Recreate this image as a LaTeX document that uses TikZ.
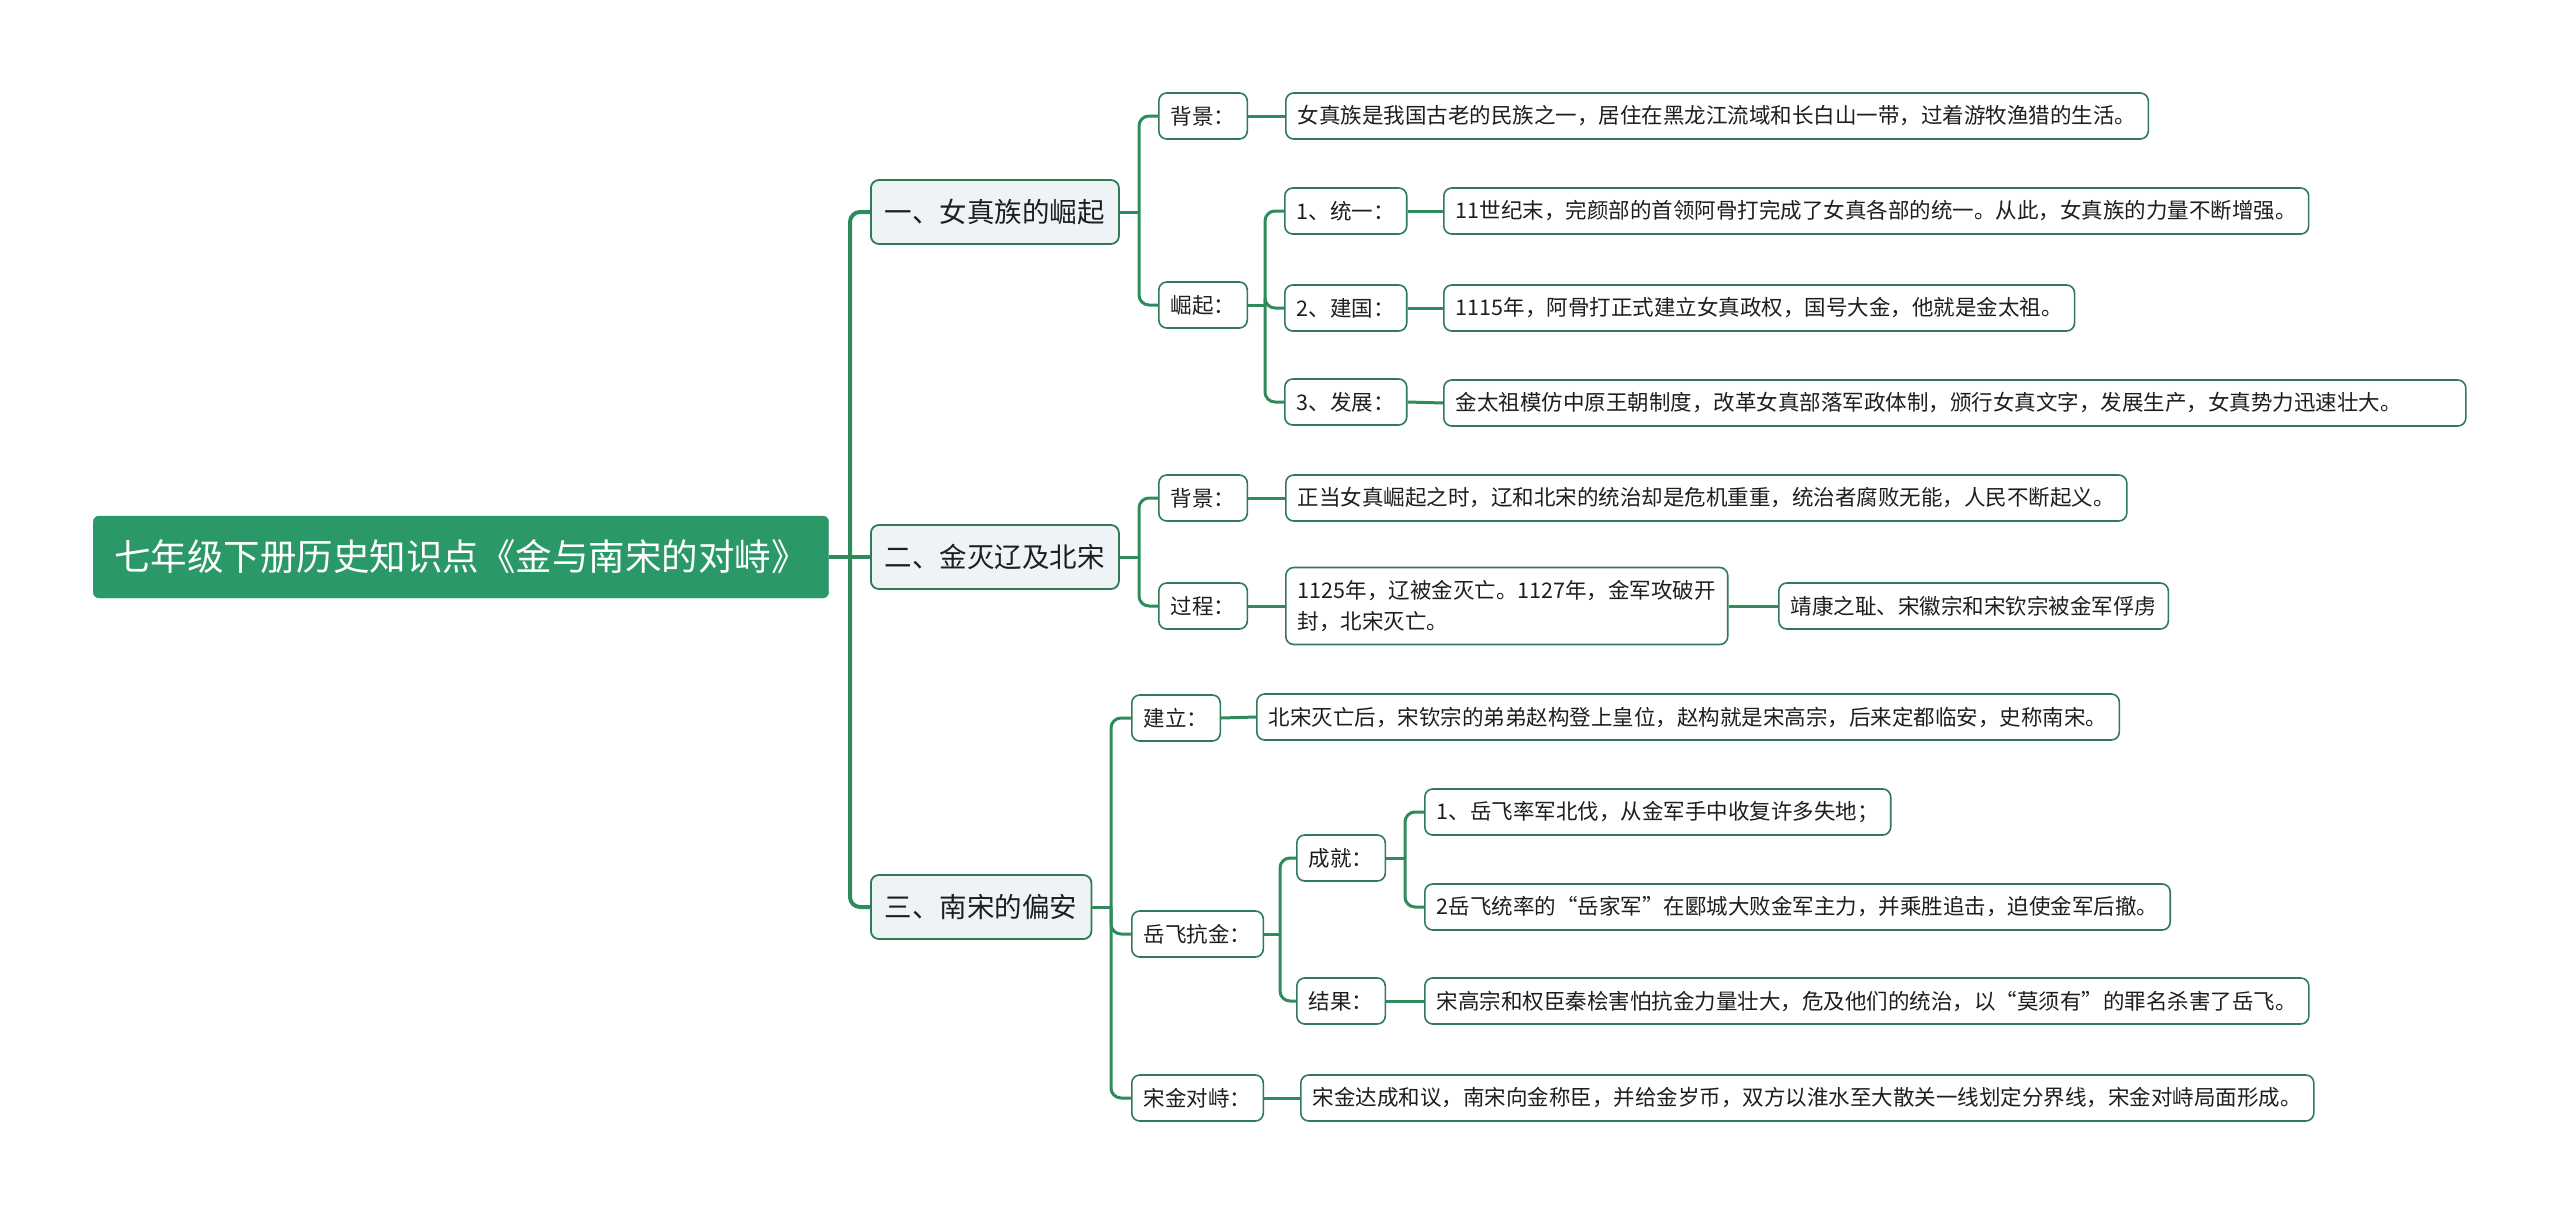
\documentclass[tikz,border=0pt]{standalone}
\usepackage{fontspec}
\setmainfont{Noto Sans CJK SC}
\definecolor{rootfill}{RGB}{43,152,104}
\definecolor{linec}{RGB}{46,140,92}
\definecolor{borderc}{RGB}{48,122,88}
\definecolor{lonefill}{RGB}{238,243,246}
\definecolor{txt}{RGB}{30,30,30}
\tikzset{
 rootbox/.style={fill=rootfill, draw=rootfill, rounded corners=6pt, text=white, font=\fontsize{36.5}{44}\selectfont, inner xsep=21pt, inner ysep=0pt, minimum height=82pt, anchor=west},
 lonebox/.style={fill=lonefill, draw=borderc, line width=1.8pt, rounded corners=8pt, font=\fontsize{27.5}{33}\selectfont, inner xsep=14pt, inner ysep=0pt, minimum height=64pt, anchor=west, text=txt},
 leafbox/.style={fill=white, draw=borderc, line width=1.6pt, rounded corners=8pt, font=\fontsize{21.5}{31}\selectfont, inner xsep=12pt, inner ysep=0pt, minimum height=46pt, anchor=west, text=txt, align=left},
 conn/.style={draw=linec, line width=3pt, rounded corners=10pt},
 mainconn/.style={conn, line width=4pt}
}
\begin{document}
\begin{tikzpicture}[x=1pt,y=-1pt]
\useasboundingbox (0,0) rectangle (2560,1215);
% root
\node[rootbox] (root) at (93,557) {七年级下册历史知识点《金与南宋的对峙》};
% level 1
\node[lonebox] (a) at (870,212) {一、女真族的崛起};
\node[lonebox] (b) at (870,557) {二、金灭辽及北宋};
\node[lonebox] (c) at (870,907) {三、南宋的偏安};
% level 2
\node[leafbox] (abj) at (1158,116) {背景：};
\node[leafbox] (ajq) at (1158,305) {崛起：};
\node[leafbox] (bbj) at (1158,498) {背景：};
\node[leafbox] (bgc) at (1158,606) {过程：};
\node[leafbox] (cjl) at (1131,718) {建立：};
\node[leafbox] (cyf) at (1131,934) {岳飞抗金：};
\node[leafbox] (csj) at (1131,1098) {宋金对峙：};
% level 3
\node[leafbox] (abjt) at (1285,116) {女真族是我国古老的民族之一，居住在黑龙江流域和长白山一带，过着游牧渔猎的生活。};
\node[leafbox] (aty) at (1284,211) {1、统一：};
\node[leafbox] (ajg) at (1284,308) {2、建国：};
\node[leafbox] (afz) at (1284,402) {3、发展：};
\node[leafbox] (atyt) at (1443,211) {11世纪末，完颜部的首领阿骨打完成了女真各部的统一。从此，女真族的力量不断增强。};
\node[leafbox] (ajgt) at (1443,308) {1115年，阿骨打正式建立女真政权，国号大金，他就是金太祖。};
\node[leafbox, text width=998pt] (afzt) at (1443,403) {金太祖模仿中原王朝制度，改革女真部落军政体制，颁行女真文字，发展生产，女真势力迅速壮大。};
\node[leafbox] (bbjt) at (1285,498) {正当女真崛起之时，辽和北宋的统治却是危机重重，统治者腐败无能，人民不断起义。};
\node[leafbox, minimum height=77pt] (bgct) at (1285,606) {1125年，辽被金灭亡。1127年，金军攻破开\\封，北宋灭亡。};
\node[leafbox] (bjk) at (1778,606) {靖康之耻、宋徽宗和宋钦宗被金军俘虏};
\node[leafbox] (cjlt) at (1256,717) {北宋灭亡后，宋钦宗的弟弟赵构登上皇位，赵构就是宋高宗，后来定都临安，史称南宋。};
\node[leafbox] (ccj) at (1296,858) {成就：};
\node[leafbox] (cjg) at (1296,1001) {结果：};
\node[leafbox] (ccj1) at (1424,812) {1、岳飞率军北伐，从金军手中收复许多失地；};
\node[leafbox] (ccj2) at (1424,907) {2岳飞统率的“岳家军”在郾城大败金军主力，并乘胜追击，迫使金军后撤。};
\node[leafbox] (cjgt) at (1424,1001) {宋高宗和权臣秦桧害怕抗金力量壮大，危及他们的统治，以“莫须有”的罪名杀害了岳飞。};
\node[leafbox] (csjt) at (1300,1098) {宋金达成和议，南宋向金称臣，并给金岁币，双方以淮水至大散关一线划定分界线，宋金对峙局面形成。};
% trunk coordinates
\coordinate (t0) at (850,557);
\coordinate (ta) at (1139,212);
\coordinate (tb) at (1139,557);
\coordinate (tc) at (1111,907);
\coordinate (tjq) at (1265,305);
\coordinate (tyf) at (1280,934);
\coordinate (tcj) at (1405,858);
% connectors root
\draw[mainconn] (root.east) -- (b.west);
\draw[mainconn] (t0) |- (a.west);
\draw[mainconn] (t0) |- (c.west);
% level 1 -> level 2
\draw[conn] (a.east) -- (ta);
\draw[conn] (ta) |- (abj.west);
\draw[conn] (ta) |- (ajq.west);
\draw[conn] (b.east) -- (tb);
\draw[conn] (tb) |- (bbj.west);
\draw[conn] (tb) |- (bgc.west);
\draw[conn] (c.east) -- (tc);
\draw[conn] (tc) |- (cjl.west);
\draw[conn] (tc) |- (cyf.west);
\draw[conn] (tc) |- (csj.west);
% level 2 -> level 3
\draw[conn] (abj.east) -- (abjt.west);
\draw[conn] (ajq.east) -- (tjq);
\draw[conn] (tjq) |- (aty.west);
\draw[conn] (tjq) |- (ajg.west);
\draw[conn] (tjq) |- (afz.west);
\draw[conn] (aty.east) -- (atyt.west);
\draw[conn] (ajg.east) -- (ajgt.west);
\draw[conn] (afz.east) -- (afzt.west);
\draw[conn] (bbj.east) -- (bbjt.west);
\draw[conn] (bgc.east) -- (bgct.west);
\draw[conn] (bgct.east) -- (bjk.west);
\draw[conn] (cjl.east) -- (cjlt.west);
\draw[conn] (cyf.east) -- (tyf);
\draw[conn] (tyf) |- (ccj.west);
\draw[conn] (tyf) |- (cjg.west);
\draw[conn] (ccj.east) -- (tcj);
\draw[conn] (tcj) |- (ccj1.west);
\draw[conn] (tcj) |- (ccj2.west);
\draw[conn] (cjg.east) -- (cjgt.west);
\draw[conn] (csj.east) -- (csjt.west);
\end{tikzpicture}
\end{document}
